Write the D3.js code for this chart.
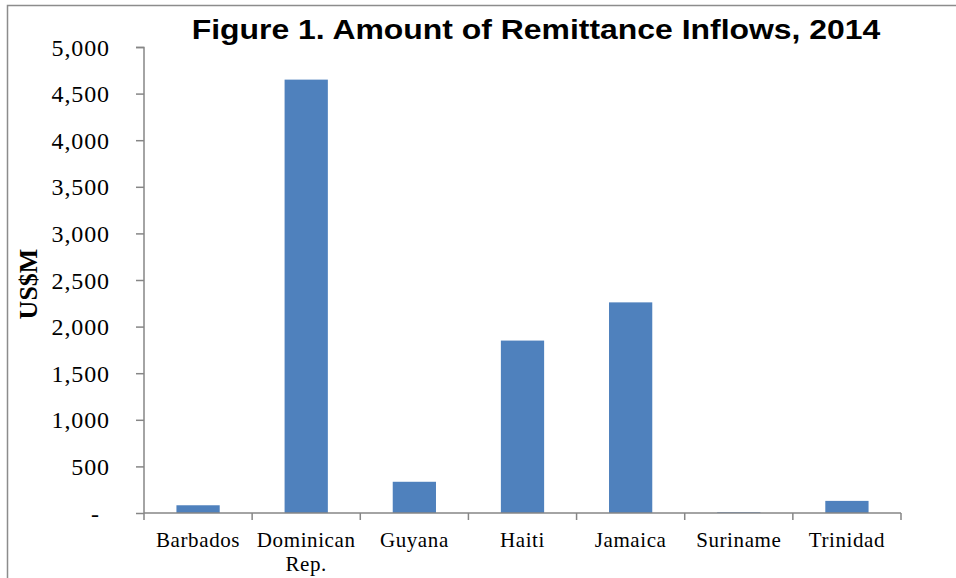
<!DOCTYPE html>
<html><head><meta charset="utf-8">
<script src="https://cdn.jsdelivr.net/npm/d3@7"></script>
<style>body{margin:0;background:#fff}svg{display:block}</style>
</head><body>
<svg id="c" width="956" height="578"></svg>
<script>
const categories = [["Barbados"],["Dominican","Rep."],["Guyana"],["Haiti"],["Jamaica"],["Suriname"],["Trinidad"]];
const values = [83, 4650, 335, 1850, 2260, 8, 130];
const yTicks = [0,500,1000,1500,2000,2500,3000,3500,4000,4500,5000];
const title = "Figure 1. Amount of Remittance Inflows, 2014";
const yLabel = "US$M";

const svg = d3.select("#c");
const m = {l:144, r:901, t:47, b:513};
const keys = categories.map((c,i)=>i);
const x = d3.scaleBand().domain(keys).range([m.l, m.r]).paddingInner(0.6).paddingOuter(0.3);
const xb = d3.scaleBand().domain(keys).range([m.l, m.r]);
const y = d3.scaleLinear().domain([0,5000]).range([m.b, m.t]);

// frame
svg.append("path").attr("d","M7.5,578 L7.5,5.5 L956,5.5").attr("fill","none").attr("stroke","#8c8c8c").attr("stroke-width",1.5);

// bars
svg.selectAll("rect.bar").data(values).join("rect").attr("class","bar")
  .attr("x",(d,i)=>x(i)).attr("width",x.bandwidth())
  .attr("y",d=>y(d)).attr("height",d=>m.b-y(d)).attr("fill","#4F81BD");

const axisColor = "#868686";
// y axis
const ya = svg.append("g").attr("transform",`translate(${m.l},0)`)
  .call(d3.axisLeft(y).tickValues(yTicks).tickSize(8).tickFormat(d=>d===0?"-":d3.format(",")(d)));
ya.select(".domain").attr("stroke",axisColor).attr("stroke-width",1.5).attr("d",`M-8,${m.t}.5H0V${m.b}`);
ya.selectAll(".tick line").attr("stroke",axisColor).attr("stroke-width",1.5);
ya.selectAll(".tick text").attr("fill","#000").style("font-family","'Liberation Serif', serif")
  .style("font-size","24px").style("letter-spacing","0.9px").attr("x",-34).attr("dy","0.34em")
  .filter(d=>d===0).attr("x",-44);

// x axis
const xa = svg.append("g").attr("transform",`translate(0,${m.b})`);
xa.append("line").attr("x1",m.l).attr("x2",m.r).attr("stroke",axisColor).attr("stroke-width",1.5);
const bounds = keys.map(k=>xb(k)).concat([m.r]);
xa.selectAll("line.t").data(bounds).join("line").attr("class","t")
  .attr("x1",d=>d).attr("x2",d=>d).attr("y1",0).attr("y2",7).attr("stroke",axisColor).attr("stroke-width",1.5);
const lbl = xa.selectAll("text").data(categories).join("text")
  .attr("x",(d,i)=>xb(i)+xb.bandwidth()/2).attr("y",34).attr("text-anchor","middle")
  .style("font-family","'Liberation Serif', serif").style("font-size","21px").style("letter-spacing","0.6px");
lbl.selectAll("tspan").data(d=>d).join("tspan")
  .attr("x",function(){return this.parentNode.getAttribute("x");})
  .attr("dy",(d,j)=>j?24:0).text(d=>d);

// y label
svg.append("text").attr("transform","translate(37,284) rotate(-90)").attr("text-anchor","middle")
  .style("font-family","'Liberation Serif', serif").style("font-weight","bold").style("font-size","26px").text(yLabel);

// title
svg.append("text").attr("transform","translate(536,38.5) scale(1.14,1)").attr("text-anchor","middle")
  .style("font-family","'Liberation Sans', Arial, sans-serif").style("font-weight","bold").style("font-size","28px").text(title);
</script>
</body></html>
